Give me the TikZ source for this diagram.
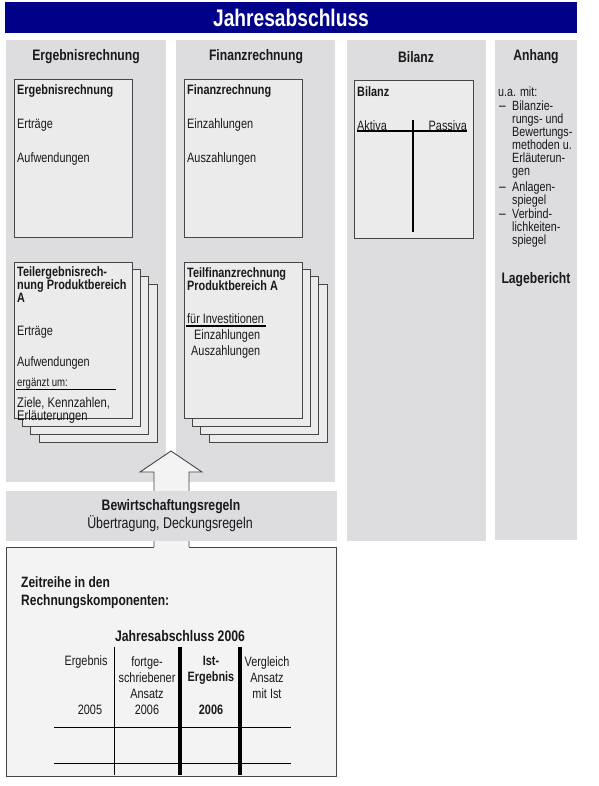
\documentclass[tikz,border=0pt]{standalone}
\usepackage{fontspec}
\setmainfont{Liberation Sans}[FakeStretch=0.8]
\definecolor{navy}{RGB}{0,0,136}
\definecolor{panelgray}{RGB}{221,221,224}
\definecolor{boxgray}{RGB}{235,235,235}
\definecolor{edgegray}{RGB}{70,70,70}
\definecolor{lightfill}{RGB}{243,243,243}
\definecolor{txtcol}{RGB}{25,25,25}
\begin{document}
\begin{tikzpicture}[x=1pt,y=-1pt,
  panel/.style={fill=panelgray,draw=none},
  ibox/.style={fill=boxgray,draw=edgegray,line width=0.8pt},
  hdr/.style={font=\bfseries\fontsize{15.2}{16}\selectfont,inner sep=0,text=txtcol},
  txt/.style={font=\fontsize{13.6}{13.3}\selectfont,inner sep=0,align=left,text=txtcol},
  atxt/.style={font=\fontsize{13.4}{12.9}\selectfont,inner sep=0,align=left,text=txtcol},
  btxt/.style={font=\bfseries\fontsize{13.6}{13}\selectfont,inner sep=0,align=left,text=txtcol},
  ctxt/.style={font=\fontsize{13.6}{16}\selectfont,inner sep=0,align=center,text=txtcol},
  cbtxt/.style={font=\bfseries\fontsize{13.6}{16}\selectfont,inner sep=0,align=center,text=txtcol},
  dashmark/.style={font=\fontsize{15}{15}\selectfont,inner sep=0,text=txtcol},
  thinline/.style={draw=black,line width=0.9pt},
  thickline/.style={draw=black,line width=3.6pt},
]
\useasboundingbox (0,0) rectangle (598,786);
\fill[white] (0,0) rectangle (598,786);

% title bar
\fill[navy] (5,2) rectangle (577,33);
\node[font=\bfseries\fontsize{24}{26}\selectfont,text=white,inner sep=0] (title) at (291,17.5) {Jahresabschluss};

% column panels
\path[panel] (6,40) rectangle (166,482);
\path[panel] (176,40) rectangle (335,482);
\path[panel] (347,40) rectangle (486,541);
\path[panel] (495,40) rectangle (577,540);

\node[hdr] (hErg) at (86,57) {Ergebnisrechnung};
\node[hdr] (hFin) at (256,57) {Finanzrechnung};
\node[hdr] (hBil) at (416,57) {Bilanz};
\node[hdr] (hAnh) at (536,57) {Anhang};

% Ergebnisrechnung top box
\path[ibox] (14,79) rectangle (132,237);
\node[btxt,anchor=west] (e1) at (17,91) {Ergebnisrechnung};
\node[txt,anchor=west] (e2) at (17,125) {Ertr\"age};
\node[txt,anchor=west] (e3) at (17,159) {Aufwendungen};

% Finanzrechnung top box
\path[ibox] (184,79) rectangle (302,237);
\node[btxt,anchor=west] (f1) at (187,91) {Finanzrechnung};
\node[txt,anchor=west] (f2) at (187,125) {Einzahlungen};
\node[txt,anchor=west] (f3) at (187,159) {Auszahlungen};

% Ergebnis stack
\foreach \k in {3,2,1,0}{
  \path[ibox] ({14+8.3*\k},{262+7.4*\k}) rectangle ({132+8.3*\k},{418+8.2*\k});
}
\node[btxt,anchor=north west] (te1) at (17,266) {Teilergebnisrech-\\nung Produktbereich\\A};
\node[txt,anchor=west] (te2) at (17,332) {Ertr\"age};
\node[txt,anchor=west] (te3) at (17,363) {Aufwendungen};
\node[font=\fontsize{12}{12}\selectfont,inner sep=0,anchor=west,text=txtcol] (te4) at (17,384) {erg\"anzt um:};
\draw[thinline] (16,389) -- (116,389);
\node[font=\fontsize{14}{11.5}\selectfont,inner sep=0,align=left,anchor=north west,text=txtcol] (te5) at (17,397.5) {Ziele, Kennzahlen,\\Erl\"auterungen};

% Finanz stack
\foreach \k in {3,2,1,0}{
  \path[ibox] ({184+8.3*\k},{262+7.4*\k}) rectangle ({302+8.3*\k},{418+8.2*\k});
}
\node[btxt,anchor=north west] (tf1) at (187,267) {Teilfinanzrechnung\\Produktbereich A};
\node[txt,anchor=west] (tf2) at (187,319) {f\"ur Investitionen};
\draw[draw=black,line width=1.8pt] (186,326) -- (266,326);
\node[txt,anchor=west] (tf3) at (194,336) {Einzahlungen};
\node[txt,anchor=west] (tf4) at (191,352) {Auszahlungen};

% Bilanz box
\path[ibox] (354,80) rectangle (473,238);
\node[btxt,anchor=west] (b1) at (357,92) {Bilanz};
\node[txt,anchor=west] (b2) at (357,126) {Aktiva};
\node[txt,anchor=east] (b3) at (467,126) {Passiva};
\draw[draw=black,line width=2pt] (357,131) -- (467,131);
\draw[draw=black,line width=1.3pt] (413,120) -- (413,232);

% Anhang
\node[atxt,anchor=west] (a0) at (498,92) {u.a. mit:};
\node[dashmark] (d1) at (502.5,108.5) {--};
\node[atxt,anchor=north west] (a1) at (512,101) {Bilanzie-\\rungs- und\\Bewertungs-\\methoden u.\\Erl\"auterun-\\gen};
\node[dashmark] (d2) at (502.5,189.5) {--};
\node[atxt,anchor=north west] (a2) at (512,182) {Anlagen-\\spiegel};
\node[dashmark] (d3) at (502.5,216.5) {--};
\node[atxt,anchor=north west] (a3) at (512,209) {Verbind-\\lichkeiten-\\spiegel};
\node[hdr] (lage) at (536,280) {Lagebericht};

% block arrow
\filldraw[fill=lightfill,draw=edgegray,line width=0.9pt]
  (154,547) -- (154,472) -- (140,472) -- (171,451) -- (202,472) -- (189,472) -- (189,547);

% Bewirtschaftungsregeln
\path[panel] (6,491) rectangle (337,541);
\node[hdr] (bw1) at (171,507) {Bewirtschaftungsregeln};
\node[font=\fontsize{15.5}{16}\selectfont,inner sep=0,text=txtcol] (bw2) at (170,524) {\"Ubertragung, Deckungsregeln};

% bottom box
\fill[lightfill] (6,547) rectangle (336,776);
\draw[draw=edgegray,line width=1pt] (154,547) -- (6,547) -- (6,776) -- (336,776) -- (336,547) -- (189,547);

\node[font=\bfseries\fontsize{15}{18}\selectfont,inner sep=0,align=left,anchor=north west,text=txtcol] (z1) at (21,576) {Zeitreihe in den\\Rechnungskomponenten:};
\node[font=\bfseries\fontsize{15.3}{16}\selectfont,inner sep=0,text=txtcol] (z2) at (180,636) {Jahresabschluss 2006};

% table lines
\coordinate (v1t) at (114,647); \coordinate (v1b) at (114,775);
\coordinate (v2t) at (180,647); \coordinate (v2b) at (180,775);
\coordinate (v3t) at (240,647); \coordinate (v3b) at (240,775);
\coordinate (h1l) at (54,727); \coordinate (h1r) at (291,727);
\coordinate (h2l) at (54,763); \coordinate (h2r) at (291,763);
\draw[thinline] (v1t) -- (v1b);
\draw[thickline] (v2t) -- (v2b);
\draw[thickline] (v3t) -- (v3b);
\draw[thinline] (h1l) -- (h1r);
\draw[thinline] (h2l) -- (h2r);

% column texts
\node[ctxt] (c1a) at (86,662) {Ergebnis};
\node[ctxt] (c1b) at (90,710) {2005};
\node[ctxt,anchor=north] (c2) at (147,656) {fortge-\\schriebener\\Ansatz\\2006};
\node[cbtxt,anchor=north] (c3a) at (211,656) {Ist-\\Ergebnis};
\node[cbtxt] (c3b) at (211,710) {2006};
\node[ctxt,anchor=north] (c4) at (267,656) {Vergleich\\Ansatz\\mit Ist};
\end{tikzpicture}
\end{document}
